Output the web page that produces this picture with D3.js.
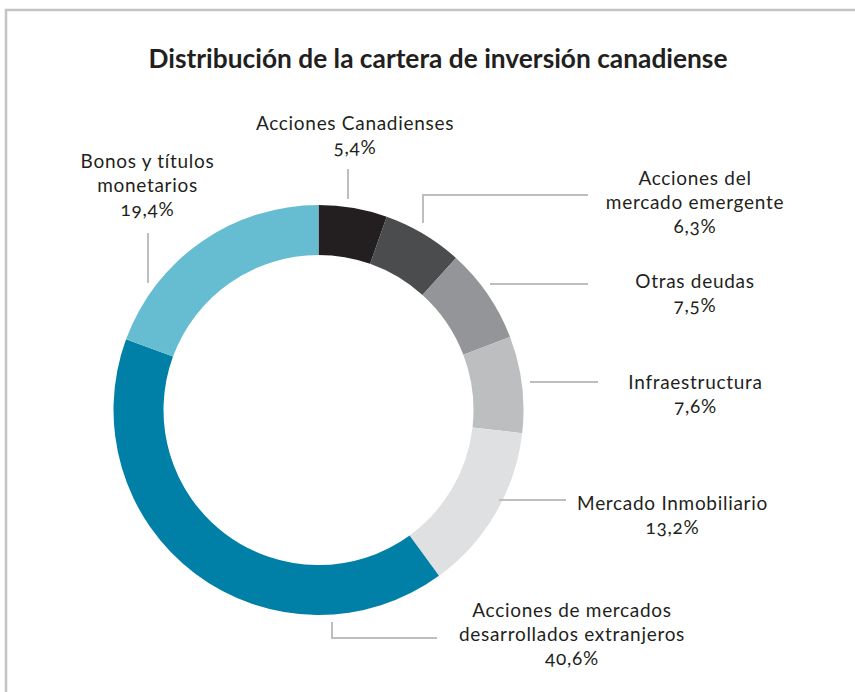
<!DOCTYPE html>
<html>
<head>
<meta charset="utf-8">
<script src="https://cdn.jsdelivr.net/npm/d3@7"></script>
<style>
  body { margin: 0; background: #fff; }
  text { font-family: Lato, "Open Sans", sans-serif; fill: #231f20; font-variant-numeric: oldstyle-nums; }
</style>
</head>
<body>
<div id="chart"></div>
<script>
// slices, clockwise from 12 o'clock
var categories = ["Acciones Canadienses", "Acciones del mercado emergente", "Otras deudas",
  "Infraestructura", "Mercado Inmobiliario", "Acciones de mercados desarrollados extranjeros",
  "Bonos y títulos monetarios"];
var values = [5.4, 6.3, 7.5, 7.6, 13.2, 40.6, 19.4];
var valueLabels = ["5,4%", "6,3%", "7,5%", "7,6%", "13,2%", "40,6%", "19,4%"];
var labelLines = [
  ["Acciones Canadienses"],
  ["Acciones del", "mercado emergente"],
  ["Otras deudas"],
  ["Infraestructura"],
  ["Mercado Inmobiliario"],
  ["Acciones de mercados", "desarrollados extranjeros"],
  ["Bonos y títulos", "monetarios"]
];
var colors = ["#231f20", "#4b4c4e", "#939598", "#bcbec0", "#dfe0e2", "#0080a7", "#66bdd1"];

var svgWidth = 855, svgHeight = 692;
var cx = 318.5, cy = 410;
var outerR = 205, innerR = 155;

var svg = d3.select("#chart").append("svg")
  .attr("width", svgWidth)
  .attr("height", svgHeight);

// frame
svg.append("path")
  .attr("d", "M6,692 V10 H855")
  .attr("fill", "none")
  .attr("stroke", "#c4c4c6")
  .attr("stroke-width", 2.5);

svg.append("text")
  .attr("x", 438)
  .attr("y", 68)
  .attr("text-anchor", "middle")
  .style("font-weight", "bold")
  .style("font-size", "26.3px")
  .text("Distribución de la cartera de inversión canadiense");

var pie = d3.pie().sort(null).value(d => d);
var arc = d3.arc().innerRadius(innerR).outerRadius(outerR);

var chartGroup = svg.append("g").attr("transform", `translate(${cx}, ${cy})`);

chartGroup.selectAll("path")
  .data(pie(values))
  .enter()
  .append("path")
  .attr("d", arc)
  .attr("fill", (d, i) => colors[i]);

// leader lines
var leaders = [
  [[348, 169], [348, 199]],
  [[423, 223], [423, 195], [588, 195]],
  [[490, 284], [588, 284]],
  [[530, 382], [598, 382]],
  [[499, 500], [566, 500]],
  [[332, 622], [332, 638], [437, 638]],
  [[148, 233], [148, 283]]
];
svg.append("g").selectAll("path")
  .data(leaders)
  .enter()
  .append("path")
  .attr("d", d3.line())
  .attr("fill", "none")
  .attr("stroke", "#bcbec0")
  .attr("stroke-width", 2);

// label anchor: centre x, baseline of first line
var labelPos = [[355, 130], [695, 185], [695, 288], [695.5, 389], [672.5, 510], [572, 617], [147.5, 168]];

var labels = svg.append("g").selectAll("text")
  .data(categories)
  .enter()
  .append("text")
  .attr("text-anchor", "middle")
  .style("font-size", "19px")
  .style("letter-spacing", "0.7px")
  .attr("x", (d, i) => labelPos[i][0])
  .attr("y", (d, i) => labelPos[i][1]);

labels.each(function(d, i) {
  var t = d3.select(this);
  var lines = labelLines[i].concat([valueLabels[i]]);
  lines.forEach(function(line, j) {
    t.append("tspan")
      .attr("x", labelPos[i][0])
      .attr("dy", j === 0 ? 0 : 24)
      .text(line);
  });
});
</script>
</body>
</html>
